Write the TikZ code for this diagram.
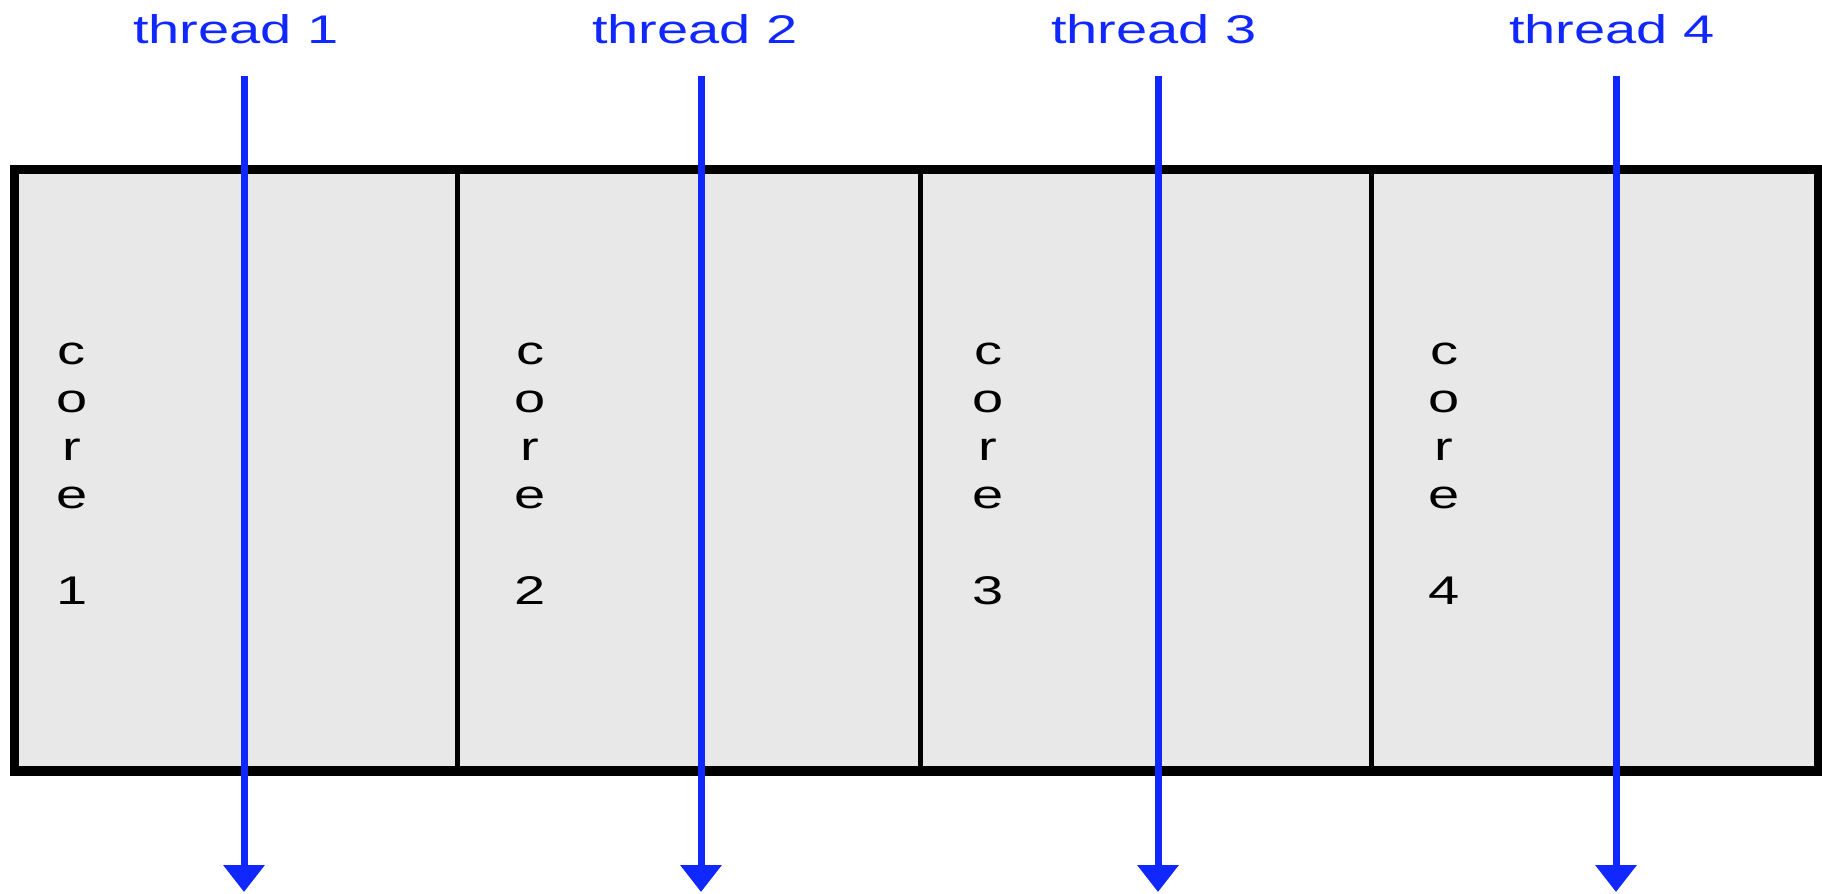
\documentclass[tikz,border=0pt]{standalone}
\usepackage{fontspec}
\setmainfont{Liberation Sans}
\usetikzlibrary{arrows.meta, positioning}
\definecolor{threadblue}{RGB}{16,40,255}
\definecolor{coregray}{RGB}{232,232,232}

\begin{document}
\begin{tikzpicture}[x=0.5pt, y=-0.5pt,
    cell/.style={draw=black, line width=2.5pt, fill=coregray, inner sep=0pt, minimum height=298.5pt, anchor=north west},
    corelabel/.style={font=\fontsize{20}{24}\selectfont, align=center, inner sep=0pt, xscale=1.4, anchor=north},
    threadlabel/.style={font=\fontsize{20}{24}\selectfont, text=threadblue, inner sep=0pt, xscale=1.4, anchor=base},
    thread/.style={draw=threadblue, line width=3.5pt, -{Triangle[width=20pt, length=13.5pt]}}]
    \useasboundingbox (0,0) rectangle (1822,894);
    % cores
    \foreach \i/\xl/\w/\lx in {1/14/441/72, 2/455/463/530, 3/918/451/988, 4/1369/445/1444} {
        \node[cell, minimum width={\w*0.5pt}] (core\i) at (\xl,169) {};
        \node[corelabel] (lab\i) at (\lx,343) {c\\o\\r\\e\\[24pt]\i};
    }
    \draw[line width=4.5pt] (core1.north west) rectangle (core4.south east);
    % threads
    \foreach \i/\tx/\ax in {1/236/244, 2/695/701, 3/1154/1158, 4/1612/1616} {
        \node[threadlabel] (th\i) at (\tx,43) {thread \i};
        \coordinate (s\i) at (\ax,76);
        \coordinate (e\i) at (\ax,892);
        \draw[thread] (s\i) -- (e\i);
    }
\end{tikzpicture}
\end{document}
